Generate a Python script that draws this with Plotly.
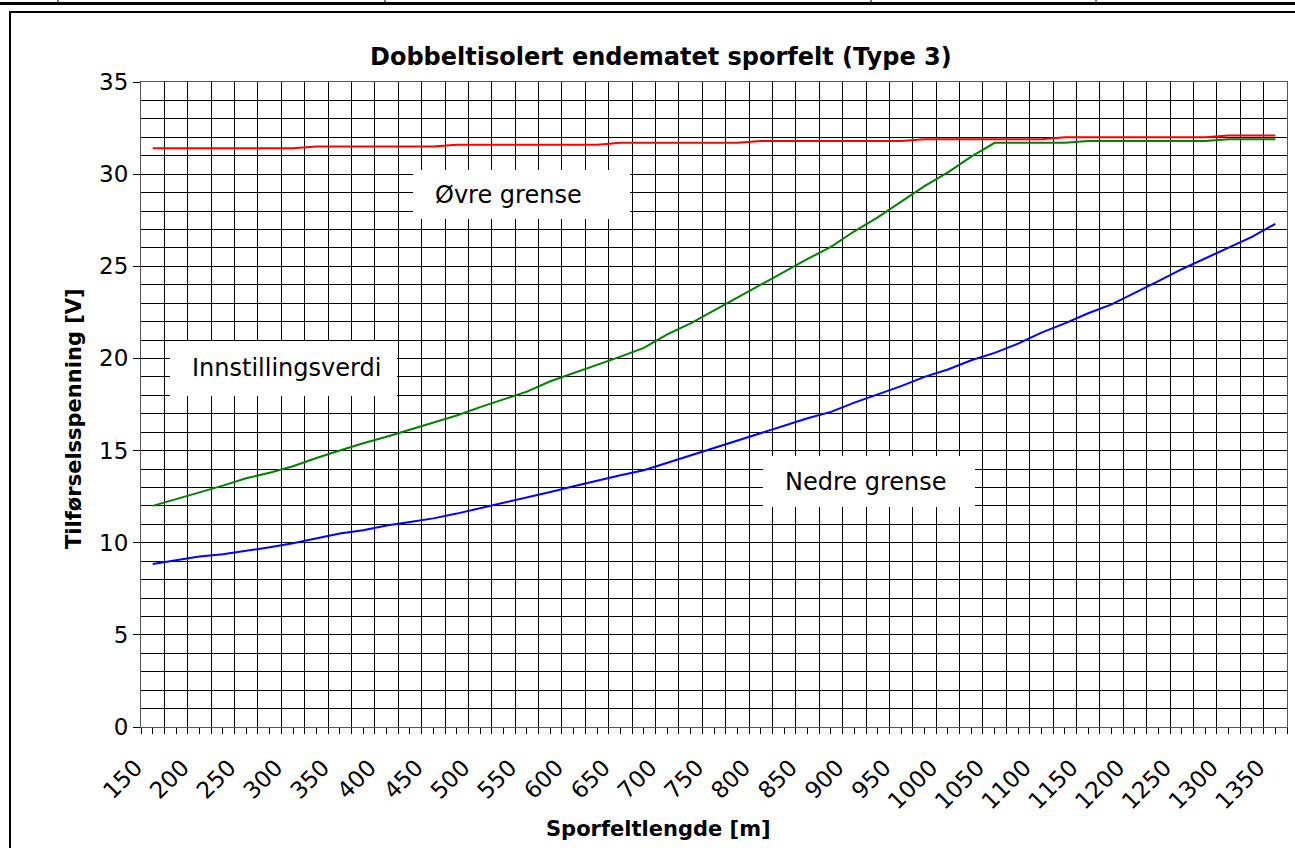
import plotly.graph_objects as go

# ---------------- data ----------------
lengths = [150, 175, 200, 225, 250, 275, 300, 325, 350, 375, 400, 425, 450, 475,
           500, 525, 550, 575, 600, 625, 650, 675, 700, 725, 750, 775, 800, 825,
           850, 875, 900, 925, 950, 975, 1000, 1025, 1050, 1075, 1100, 1125, 1150,
           1175, 1200, 1225, 1250, 1275, 1300, 1325, 1350]

ovre_grense = [31.4, 31.4, 31.4, 31.4, 31.4, 31.4, 31.4,
               31.5, 31.5, 31.5, 31.5, 31.5, 31.5,
               31.6, 31.6, 31.6, 31.6, 31.6, 31.6, 31.6,
               31.7, 31.7, 31.7, 31.7, 31.7, 31.7,
               31.8, 31.8, 31.8, 31.8, 31.8, 31.8, 31.8,
               31.9, 31.9, 31.9, 31.9, 31.9, 31.9,
               32.0, 32.0, 32.0, 32.0, 32.0, 32.0, 32.0,
               32.1, 32.1, 32.1]

innstillingsverdi = [12.0, 12.36, 12.7, 13.1, 13.5, 13.8, 14.15, 14.6, 15.0, 15.4,
                     15.75, 16.13, 16.5, 16.9, 17.36, 17.8, 18.2, 18.76, 19.2, 19.68,
                     20.1, 20.57, 21.3, 21.9, 22.6, 23.3, 24.0, 24.7, 25.4, 26.05,
                     26.9, 27.65, 28.5, 29.35, 30.1, 30.95, 31.7, 31.7, 31.7, 31.7,
                     31.8, 31.8, 31.8, 31.8, 31.8, 31.8, 31.9, 31.9, 31.9]

nedre_grense = [8.85, 9.05, 9.25, 9.37, 9.55, 9.75, 9.97, 10.25, 10.5, 10.68,
                10.93, 11.12, 11.32, 11.58, 11.87, 12.14, 12.43, 12.75, 13.06, 13.37,
                13.66, 13.93, 14.33, 14.72, 15.12, 15.52, 15.92, 16.32, 16.75, 17.1,
                17.6, 18.05, 18.5, 19.0, 19.4, 19.9, 20.3, 20.8, 21.4, 21.9,
                22.45, 22.93, 23.55, 24.2, 24.84, 25.42, 26.0, 26.6, 27.3]

label_values = [150, 200, 250, 300, 350, 400, 450, 500, 550, 600, 650, 700, 750,
                800, 850, 900, 950, 1000, 1050, 1100, 1150, 1200, 1250, 1300, 1350]

title_text = "Dobbeltisolert endematet sporfelt (Type 3)"
x_title = "Sporfeltlengde [m]"
y_title = "Tilførselsspenning [V]"

# text labels: (text, box left, box top, box right, box bottom) in pixels
label_boxes = [
    ("Øvre grense", 413, 170, 630, 219),
    ("Innstillingsverdi", 170, 341, 397, 396),
    ("Nedre grense", 763, 456, 975, 507),
]

# ---------------- figure ----------------
W, H = 1295, 848
L, R, T, B = 141, 8, 82, 121
PW, PH = W - L - R, H - T - B


def px(xp):
    return (xp - L) / PW


def py(yp):
    return (H - B - yp) / PH


FONT = "DejaVu Sans"

fig = go.Figure()
for vals, col in [(ovre_grense, "#FF0000"), (innstillingsverdi, "#008000"),
                  (nedre_grense, "#0000FF")]:
    fig.add_trace(go.Scatter(x=lengths, y=vals, mode="lines",
                             line=dict(color=col, width=2), hoverinfo="x+y"))

ticktext = [str(v) if v in label_values else "" for v in lengths]

fig.update_xaxes(
    range=[137.5, 1362.5], tickmode="array", tickvals=lengths, ticktext=ticktext,
    tickangle=-45, ticks="outside", ticklen=6, tickcolor="#000", tickwidth=1,
    showgrid=False, zeroline=False,
    showline=True, linecolor="#555", linewidth=1, mirror=True,
    tickfont=dict(family=FONT, size=23, color="#000"),
    ticklabelstandoff=11, ticklabelshift=-17,
    minor=dict(tickmode="linear", tick0=137.5, dtick=25, ticks="outside",
               ticklen=6, tickcolor="#000", showgrid=True, gridcolor="#000",
               gridwidth=1),
)
fig.update_yaxes(
    range=[0, 35], tick0=0, dtick=5, ticks="outside", ticklen=7, tickcolor="#000",
    showgrid=True, gridcolor="#000", gridwidth=1, zeroline=False,
    showline=True, linecolor="#555", linewidth=1, mirror=True,
    tickfont=dict(family=FONT, size=23, color="#000"),
    minor=dict(dtick=1, showgrid=True, gridcolor="#000", gridwidth=1, ticks=""),
)

annotations = [
    dict(text=title_text, x=px(661), y=py(57), xref="paper", yref="paper",
         showarrow=False, font=dict(family=FONT, size=24, color="#000", weight="bold"),
         xanchor="center", yanchor="middle"),
    dict(text=x_title, x=px(658), y=py(829), xref="paper", yref="paper",
         showarrow=False, font=dict(family=FONT, size=21, color="#000", weight="bold"),
         xanchor="center", yanchor="middle"),
    dict(text=y_title, x=px(74), y=py(419), xref="paper", yref="paper",
         textangle=-90, showarrow=False,
         font=dict(family=FONT, size=21, color="#000", weight="bold"),
         xanchor="center", yanchor="middle"),
]

shapes = [
    # chart area border
    dict(type="rect", xref="paper", yref="paper", x0=px(10), y0=py(12), x1=px(1320),
         y1=py(880), line=dict(color="#000", width=2), fillcolor="rgba(0,0,0,0)",
         layer="above"),
    # document table fragment above the chart
    dict(type="line", xref="paper", yref="paper", x0=px(-5), x1=px(1300), y0=py(3.5),
         y1=py(3.5), line=dict(color="#000", width=3)),
]
for xd in [58, 385, 871, 1096]:
    shapes.append(dict(type="line", xref="paper", yref="paper", x0=px(xd), x1=px(xd),
                       y0=py(-2), y1=py(3), line=dict(color="#000", width=1)))

for text, x0, y0, x1, y1 in label_boxes:
    shapes.append(dict(type="rect", xref="paper", yref="paper", x0=px(x0), x1=px(x1),
                       y0=py(y1), y1=py(y0), fillcolor="#FFFFFF",
                       line=dict(width=0), layer="above"))
    annotations.append(dict(text=text, x=px(x0 + 20), y=py((y0 + y1) / 2),
                            xref="paper", yref="paper", showarrow=False,
                            font=dict(family=FONT, size=24, color="#000"),
                            xanchor="left", yanchor="middle"))

fig.update_layout(
    width=W, height=H, margin=dict(l=L, r=R, t=T, b=B, autoexpand=False),
    paper_bgcolor="#FFFFFF", plot_bgcolor="#FFFFFF", showlegend=False,
    font=dict(family=FONT, color="#000"),
    annotations=annotations, shapes=shapes,
)

fig.write_html("out.html", config={"displayModeBar": False},
               post_script="document.body.style.margin='0';"
                           "document.body.style.overflow='hidden';")
